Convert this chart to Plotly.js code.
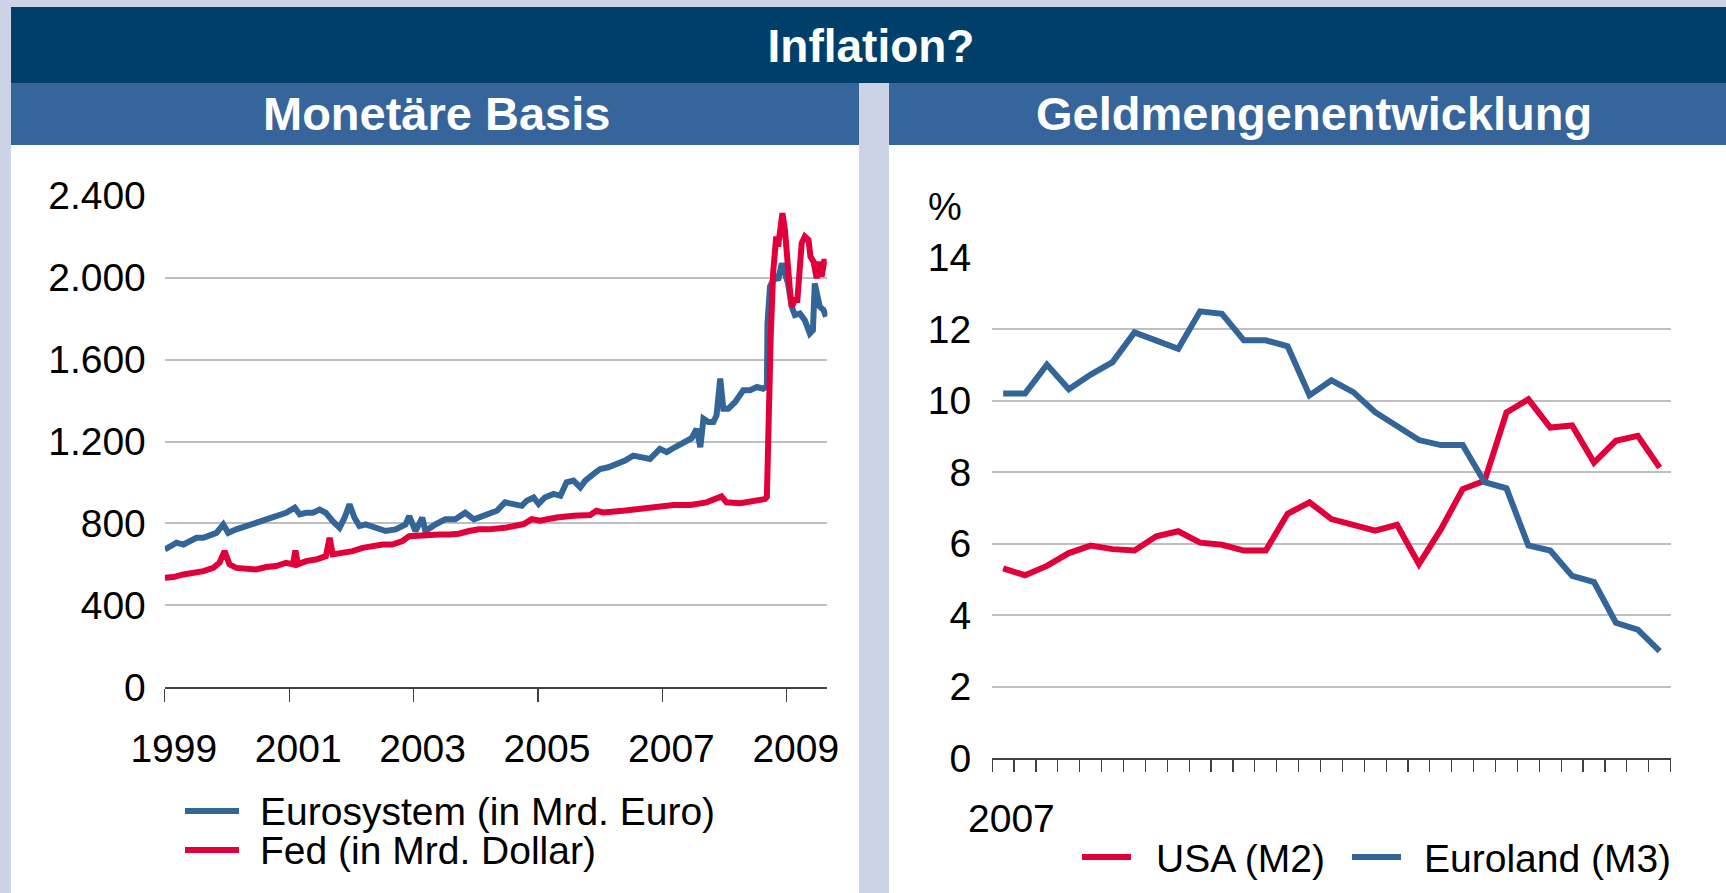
<!DOCTYPE html>
<html>
<head>
<meta charset="utf-8">
<script src="https://cdn.plot.ly/plotly-3.0.1.min.js"></script>
<style>html,body{margin:0;padding:0;background:#cdd3e6;}#chart{width:1726px;height:893px;}</style>
</head>
<body>
<div id="chart"></div>
<script>
// ---------- DATA ----------
// Left chart: Monetäre Basis (decimal years)
const euroYears = [1999.00,1999.08,1999.19,1999.30,1999.40,1999.51,1999.62,1999.72,1999.83,1999.94,
  2000.02,2000.15,2000.31,2000.47,2000.63,2000.79,2000.95,
  2001.09,2001.17,2001.27,2001.38,2001.49,2001.59,2001.70,2001.81,2001.89,2001.97,
  2002.05,2002.13,2002.23,2002.39,2002.55,2002.71,2002.87,2002.93,
  2003.03,2003.14,2003.19,2003.35,2003.51,2003.67,2003.83,2003.97,
  2004.10,2004.26,2004.34,2004.47,2004.61,2004.74,2004.82,2004.93,
  2005.01,2005.11,2005.25,2005.36,2005.46,2005.57,2005.68,2005.76,2005.89,
  2006.00,2006.13,2006.27,2006.40,2006.53,2006.67,2006.80,2006.96,
  2007.07,2007.20,2007.34,2007.47,2007.55,2007.61,2007.66,2007.74,2007.82,2007.87,2007.93,2007.98,
  2008.06,2008.17,2008.30,2008.41,2008.52,2008.62,2008.68,2008.69,2008.73,2008.81,2008.86,2008.92,2008.97,
  2009.02,2009.08,2009.13,2009.21,2009.29,2009.37,2009.42,2009.45,2009.53,2009.59,2009.63];
const euroValues = [673,689,706,697,714,730,730,738,754,795,
  754,771,787,803,820,836,852,
  877,844,852,852,868,852,811,779,828,893,
  828,787,795,779,763,771,795,836,
  763,828,763,795,820,820,852,820,
  836,860,862,903,895,886,911,927,
  895,927,944,935,1001,1009,976,1009,1041,
  1066,1074,1090,1107,1131,1120,1115,1164,
  1148,1172,1197,1216,1262,1172,1311,1295,1295,1327,1507,1360,
  1360,1393,1450,1450,1466,1458,1470,1776,1956,2005,1988,2070,2021,
  1972,1858,1817,1825,1792,1727,1743,1972,1858,1842,1809];

const fedYears = [1999.00,1999.14,1999.30,1999.46,1999.62,1999.78,1999.88,1999.96,
  2000.04,2000.15,2000.31,2000.47,2000.63,2000.79,2000.95,
  2001.06,2001.10,2001.14,2001.27,2001.43,2001.59,2001.65,2001.70,2001.86,
  2002.02,2002.18,2002.34,2002.50,2002.66,2002.82,2002.93,
  2003.09,2003.25,2003.41,2003.57,2003.73,2003.89,
  2004.05,2004.21,2004.50,2004.77,2004.90,
  2005.03,2005.30,2005.57,2005.84,2005.94,
  2006.05,2006.37,2006.64,2006.91,
  2007.18,2007.45,2007.71,2007.95,
  2008.03,2008.25,2008.52,2008.65,2008.68,2008.70,2008.74,2008.78,2008.83,2008.86,2008.90,2008.93,2008.97,
  2009.01,2009.05,2009.08,2009.13,2009.17,2009.20,2009.24,2009.29,2009.35,2009.38,2009.43,2009.48,2009.52,2009.56,2009.60,2009.64];
const fedValues = [535,538,551,559,567,583,608,665,
  600,583,580,575,587,592,608,
  600,668,600,616,624,640,730,649,657,
  665,681,689,697,697,714,738,
  743,746,746,746,750,763,
  771,771,780,797,821,
  813,829,837,841,862,
  854,862,873,886,
  890,890,903,932,
  903,899,911,919,930,1286,1695,2021,2201,2152,2266,2315,2233,
  2054,1940,1858,1891,1891,2070,2168,2201,2184,2103,2078,1997,2078,2005,2078,2078];

const leftYTicks = [0,400,800,1200,1600,2000,2400];
const leftYLabels = ['0','400','800','1.200','1.600','2.000','2.400'];
const leftXTicks = [1999,2001,2003,2005,2007,2009];
const leftXLabels = ['1999','2001','2003','2005','2007','2009'];

// Right chart: Geldmengenentwicklung (% yoy), monthly Jan 2007 - Jul 2009
const months = ['2007-01','2007-02','2007-03','2007-04','2007-05','2007-06','2007-07','2007-08','2007-09','2007-10','2007-11','2007-12',
  '2008-01','2008-02','2008-03','2008-04','2008-05','2008-06','2008-07','2008-08','2008-09','2008-10','2008-11','2008-12',
  '2009-01','2009-02','2009-03','2009-04','2009-05','2009-06','2009-07'];
const usaM2 = [5.31,5.12,5.38,5.74,5.95,5.85,5.81,6.21,6.35,6.03,5.97,5.81,5.81,6.84,7.16,6.69,6.53,6.37,6.53,5.43,6.40,7.53,7.76,9.67,10.04,9.25,9.31,8.27,8.88,9.02,8.13];
const euroM3 = [10.20,10.20,11.01,10.32,10.73,11.08,11.91,11.69,11.45,12.50,12.43,11.69,11.69,11.52,10.15,10.57,10.24,9.68,9.29,8.90,8.76,8.76,7.72,7.55,5.95,5.81,5.10,4.93,3.79,3.60,3.00];
const rightYTicks = [0,2,4,6,8,10,12,14];
const rightYearLabel = '2007';

// ---------- STYLE ----------
const W = 1726, H = 893;
const px = v => v / W;
const py = v => 1 - v / H;
const FONT = 'Liberation Sans, Arial, Helvetica, sans-serif';
const BLUE = '#336598', RED = '#e2003a';
const DARK = '#003f6a', MID = '#35659a', BG = '#cdd3e6', GRID = '#bfbfbf';
const TICKF = {family: FONT, size: 39, color: '#000'};
const LW = 6;

const monthX = months.map((m, i) => i + 0.5);

const traces = [
  {x: euroYears, y: euroValues, type: 'scatter', mode: 'lines', name: 'Eurosystem (in Mrd. Euro)',
   line: {color: BLUE, width: LW}, xaxis: 'x', yaxis: 'y'},
  {x: fedYears, y: fedValues, type: 'scatter', mode: 'lines', name: 'Fed (in Mrd. Dollar)',
   line: {color: RED, width: LW}, xaxis: 'x', yaxis: 'y'},
  {x: monthX, y: usaM2, text: months, type: 'scatter', mode: 'lines', name: 'USA (M2)',
   line: {color: RED, width: LW}, xaxis: 'x2', yaxis: 'y2'},
  {x: monthX, y: euroM3, text: months, type: 'scatter', mode: 'lines', name: 'Euroland (M3)',
   line: {color: BLUE, width: LW}, xaxis: 'x2', yaxis: 'y2'}
];

function rect(x0, y0, x1, y1, color) {
  return {type: 'rect', xref: 'paper', yref: 'paper', x0: px(x0), x1: px(x1), y0: py(y1), y1: py(y0),
          fillcolor: color, line: {width: 0}, layer: 'below'};
}
function legLine(x0, x1, y, color) {
  return {type: 'line', xref: 'paper', yref: 'paper', x0: px(x0), x1: px(x1), y0: py(y), y1: py(y),
          line: {color: color, width: 6}};
}
function label(text, x, y, anchor, size, bold) {
  return {text: text, xref: 'paper', yref: 'paper', x: px(x), y: py(y), xanchor: anchor, yanchor: 'middle',
          showarrow: false, font: {family: FONT, size: size, color: bold ? '#fff' : '#000', weight: bold ? 'bold' : 'normal'}};
}

const layout = {
  width: W, height: H,
  margin: {l: 0, r: 0, t: 0, b: 0, pad: 0},
  paper_bgcolor: BG, plot_bgcolor: 'rgba(0,0,0,0)',
  showlegend: false,
  title: {text: 'Inflation?', x: px(871), xanchor: 'center', xref: 'paper', y: py(46), yanchor: 'middle', yref: 'container',
          font: {family: FONT, size: 46, color: '#fff', weight: 'bold'}},
  xaxis: {domain: [px(164.8), px(827.4)], anchor: 'y', type: 'linear', range: [1999, 2009.653],
          tickvals: leftXTicks, ticktext: leftXLabels, ticks: 'outside', ticklen: 13, tickwidth: 1.2, tickcolor: '#404040',
          showline: true, linecolor: '#404040', linewidth: 1.5, showgrid: false, zeroline: false,
          tickfont: TICKF, ticklabelstandoff: 13, ticklabelshift: 9, fixedrange: true},
  yaxis: {domain: [py(687.3), py(195.7)], anchor: 'x', range: [0, 2400],
          tickvals: leftYTicks, ticktext: leftYLabels, ticks: '', showline: false, zeroline: false,
          showgrid: true, gridcolor: GRID, gridwidth: 2, tickfont: TICKF, ticklabelstandoff: 18, fixedrange: true},
  xaxis2: {domain: [px(992.2), px(1670.6)], anchor: 'y2', type: 'linear', range: [0, months.length],
           tick0: 0, dtick: 1, ticks: 'outside', ticklen: 12, tickwidth: 1.2, tickcolor: '#404040',
           showticklabels: false, showline: true, linecolor: '#404040', linewidth: 1.5, showgrid: false, zeroline: false, fixedrange: true},
  yaxis2: {domain: [py(758.3), py(257.7)], anchor: 'x2', range: [0, 14],
           tickvals: rightYTicks, ticks: '', showline: false, zeroline: false,
           showgrid: true, gridcolor: GRID, gridwidth: 2, tickfont: TICKF, ticklabelstandoff: 20, fixedrange: true},
  shapes: [
    rect(11, 7, 1726, 83, DARK),
    rect(11, 83, 859, 145, MID),
    rect(889, 83, 1726, 145, MID),
    rect(11, 145, 859, 893, '#ffffff'),
    rect(889, 145, 1726, 893, '#ffffff'),
    legLine(185, 239, 811, BLUE),
    legLine(185, 239, 850, RED),
    legLine(1082, 1131, 857, RED),
    legLine(1352, 1401, 857, BLUE)
  ],
  annotations: [
    label('Monetäre Basis', 437, 113, 'center', 47, true),
    label('Geldmengenentwicklung', 1314, 113, 'center', 47, true),
    label('%', 945, 207, 'center', 38, false),
    {text: rightYearLabel, xref: 'x2', yref: 'paper', x: 0.5, y: py(818), xanchor: 'center', yanchor: 'middle',
     xshift: 8, showarrow: false, font: TICKF},
    label('Eurosystem (in Mrd. Euro)', 258, 811, 'left', 39, false),
    label('Fed (in Mrd. Dollar)', 258, 850, 'left', 39, false),
    label('USA (M2)', 1154, 858, 'left', 39, false),
    label('Euroland (M3)', 1422, 858, 'left', 39, false)
  ]
};

Plotly.newPlot('chart', traces, layout, {displayModeBar: false, staticPlot: true});
</script>
</body>
</html>
